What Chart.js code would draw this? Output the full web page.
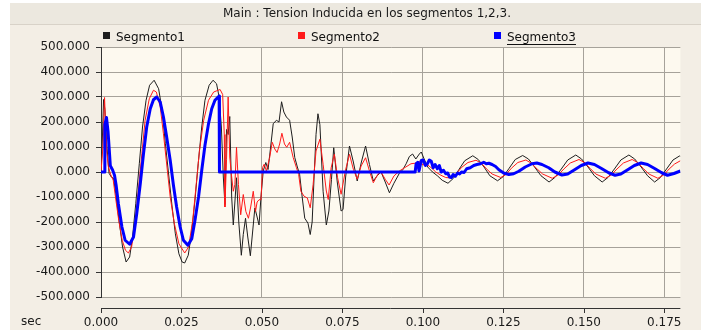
<!DOCTYPE html>
<html>
<head>
<meta charset="utf-8">
<title>Tension Inducida en los segmentos</title>
<script src="https://cdn.jsdelivr.net/npm/chart.js@4.4.0/dist/chart.umd.min.js"></script>
<style>
    html, body { margin: 0; padding: 0; background: #ffffff; }
    .wrap { width: 701px; height: 330px; position: relative; }
</style>
</head>
<body>
<div class="wrap"><canvas id="graph"></canvas></div>
<script>
const chartTitle = 'Main : Tension Inducida en los segmentos 1,2,3.';
const seriesNames = ['Segmento1', 'Segmento2', 'Segmento3'];
const seriesColors = ['#1e1e1e', '#ff1a1a', '#0000ff'];
const xUnit = 'sec';

// Segmento1 (black) - time in s, tension
const seg1Time = [0, 0.0004, 0.0008, 0.0012, 0.0018, 0.0025, 0.0032, 0.0039, 0.0046, 0.0056, 0.0067, 0.0078, 0.0089, 0.0098,
    0.0108, 0.0119, 0.0129, 0.0140, 0.0151, 0.0165, 0.0179, 0.0190, 0.0200, 0.0211, 0.0221, 0.0231, 0.0242, 0.0252, 0.0260,
    0.0271, 0.0281, 0.0292, 0.0302, 0.0313, 0.0323, 0.0336, 0.0348, 0.0359, 0.0367, 0.0374, 0.0380, 0.0385, 0.0390, 0.0395,
    0.0400, 0.0406, 0.0411, 0.0416, 0.0421, 0.0428, 0.0436, 0.0442, 0.0449, 0.0456, 0.0464, 0.0471, 0.0478, 0.0485, 0.0491,
    0.0497, 0.0504, 0.0512, 0.0519, 0.0527, 0.0535, 0.0545, 0.0553, 0.0561, 0.0568, 0.0576, 0.0586, 0.0594, 0.0602, 0.0610,
    0.0617, 0.0625, 0.0633, 0.0643, 0.0650, 0.0656, 0.0662, 0.0668, 0.0674, 0.0680, 0.0690, 0.0700, 0.0708, 0.0716, 0.0723,
    0.0734, 0.0746, 0.0752, 0.0760, 0.0772, 0.0784, 0.0796, 0.0809, 0.0822, 0.0834, 0.0846, 0.0858, 0.0870, 0.0883, 0.0896,
    0.0910, 0.0927, 0.0938, 0.0948, 0.0958, 0.0968, 0.0978, 0.0989, 0.0995, 0.1003, 0.1015, 0.1030, 0.1045, 0.1060, 0.1078,
    0.1095, 0.1112, 0.1130, 0.1155, 0.1172, 0.1190, 0.1208, 0.1232, 0.1250, 0.1268, 0.1287, 0.1310, 0.1328, 0.1347, 0.1367,
    0.1392, 0.1410, 0.1430, 0.1450, 0.1475, 0.1493, 0.1513, 0.1533, 0.1557, 0.1575, 0.1595, 0.1615, 0.1640, 0.1658, 0.1678,
    0.1698, 0.1720, 0.1738, 0.1757, 0.1777, 0.1797, 0.1800];
const seg1Volt = [0, 120, 290, 250, 110, -5, -20, -25, -87, -193, -300, -360, -340, -260,
    -127, 33, 180, 287, 347, 367, 333, 247, 113, -20, -140, -247, -327, -360, -364,
    -333, -247, -113, 33, 180, 287, 347, 367, 353, 300, 180, -20, -130, 170, 150,
    222, -100, -212, -120, -23, -200, -333, -250, -185, -260, -335, -240, -144, -180, -212,
    -100, 4, 38, 10, 100, 193, 207, 200, 281, 240, 220, 207, 140, 58, 20,
    -9, -100, -185, -205, -250, -200, -20, 150, 233, 190, -77, -212, -156, -30, 97,
    -40, -156, -150, -20, 104, 40, -36, 40, 104, 30, -36, -15, 0, -40, -83,
    -45, -5, 10, 33, 62, 72, 52, 72, 80, 55, 20, 0, -15, -33, -45,
    -25, 10, 45, 65, 50, 20, -15, -35, -18, 15, 50, 66, 52, 20, -15,
    -40, -22, 12, 48, 68, 52, 20, -15, -40, -22, 12, 48, 68, 52, 20,
    -15, -40, -22, 12, 48, 64, 63];

// Segmento2 (red)
const seg2Time = [0, 0.0006, 0.0011, 0.0014, 0.0018, 0.0023, 0.0030, 0.0038, 0.0045, 0.0055, 0.0066, 0.0076, 0.0085, 0.0095,
    0.0106, 0.0116, 0.0127, 0.0137, 0.0150, 0.0163, 0.0172, 0.0184, 0.0194, 0.0205, 0.0215, 0.0228, 0.0242, 0.0260, 0.0272,
    0.0285, 0.0296, 0.0306, 0.0319, 0.0334, 0.0350, 0.0360, 0.0370, 0.0378, 0.0383, 0.0385, 0.0390, 0.0395, 0.0400, 0.0405,
    0.0411, 0.0416, 0.0421, 0.0427, 0.0434, 0.0442, 0.0450, 0.0458, 0.0465, 0.0473, 0.0480, 0.0485, 0.0491, 0.0497, 0.0502,
    0.0507, 0.0514, 0.0524, 0.0532, 0.0540, 0.0547, 0.0555, 0.0562, 0.0570, 0.0577, 0.0586, 0.0597, 0.0607, 0.0614, 0.0621,
    0.0631, 0.0641, 0.0650, 0.0659, 0.0668, 0.0680, 0.0690, 0.0700, 0.0706, 0.0715, 0.0725, 0.0735, 0.0746, 0.0759, 0.0772,
    0.0784, 0.0796, 0.0808, 0.0822, 0.0834, 0.0846, 0.0860, 0.0870, 0.0883, 0.0895, 0.0910, 0.0927, 0.0947, 0.0963, 0.0975,
    0.0989, 0.1000, 0.1010, 0.1025, 0.1040, 0.1056, 0.1071, 0.1088, 0.1103, 0.1120, 0.1140, 0.1165, 0.1182, 0.1198, 0.1215,
    0.1242, 0.1258, 0.1275, 0.1295, 0.1320, 0.1337, 0.1355, 0.1372, 0.1402, 0.1420, 0.1438, 0.1458, 0.1485, 0.1502, 0.1520,
    0.1537, 0.1567, 0.1585, 0.1603, 0.1623, 0.1650, 0.1667, 0.1685, 0.1702, 0.1730, 0.1748, 0.1765, 0.1782, 0.1800];
const seg2Volt = [0, 100, 298, 200, 80, 20, -10, -33, -100, -193, -273, -313, -324, -300,
    -207, -73, 73, 207, 293, 327, 320, 260, 153, 20, -100, -207, -287, -324, -300,
    -193, -47, 87, 207, 287, 320, 325, 330, 310, 150, -140, 50, 300, 60, -9,
    -77, -50, 99, -50, -171, -90, -158, -185, -140, -77, -158, -120, -111, -111, 18,
    31, 4, 58, 119, 92, 78, 112, 155, 112, 99, 119, 58, 18, -9, -77,
    -97, -104, -143, -50, 84, 131, 31, -76, -110, 17, 71, -23, -89, 4, 71,
    11, -29, 24, 57, 4, -43, -9, 0, -29, -52, -16, 4, 20, 33, 35,
    43, 28, 33, 18, 0, -13, -22, -24, -8, 18, 38, 47, 35, 12, -8,
    -22, -10, 15, 38, 48, 35, 12, -8, -25, -12, 12, 36, 50, 38, 14,
    -8, -25, -12, 12, 36, 50, 38, 14, -8, -25, -12, 12, 32, 45];

// Segmento3 (blue)
const seg3Time = [0, 0.0011, 0.0012, 0.0017, 0.0022, 0.0029, 0.0036, 0.0042, 0.0047, 0.0054, 0.0065, 0.0075, 0.0089, 0.0101,
    0.0111, 0.0122, 0.0132, 0.0142, 0.0153, 0.0163, 0.0173, 0.0184, 0.0194, 0.0204, 0.0215, 0.0225, 0.0235, 0.0246, 0.0256,
    0.0270, 0.0282, 0.0292, 0.0303, 0.0313, 0.0323, 0.0334, 0.0344, 0.0354, 0.0367, 0.0368, 0.0976, 0.0979, 0.0984, 0.0988,
    0.0995, 0.1001, 0.1008, 0.1014, 0.1020, 0.1026, 0.1032, 0.1038, 0.1045, 0.1051, 0.1057, 0.1064, 0.1071, 0.1077, 0.1083,
    0.1089, 0.1094, 0.1101, 0.1108, 0.1114, 0.1120, 0.1128, 0.1136, 0.1147, 0.1158, 0.1168, 0.1179, 0.1189, 0.1197, 0.1205,
    0.1215, 0.1226, 0.1236, 0.1251, 0.1267, 0.1282, 0.1298, 0.1318, 0.1339, 0.1354, 0.1370, 0.1391, 0.1410, 0.1432, 0.1450,
    0.1470, 0.1492, 0.1513, 0.1533, 0.1555, 0.1577, 0.1597, 0.1615, 0.1635, 0.1657, 0.1678, 0.1698, 0.1720, 0.1742, 0.1760,
    0.1780, 0.1800];
const seg3Volt = [0, 0, 190, 218, 160, 25, 8, -13, -53, -127, -220, -273, -289, -260,
    -167, -47, 73, 180, 253, 289, 300, 280, 220, 140, 47, -53, -140, -220, -273,
    -293, -267, -193, -100, 7, 107, 193, 253, 287, 304, 0, 0, 33, 39, 4,
    46, 48, 26, 33, 48, 43, 17, 30, 13, 26, 0, 7, -7, -4, -20,
    -22, -10, -17, -4, -8, 0, -2, 13, 17, 26, 30, 33, 39, 33, 35,
    30, 22, 9, -4, -10, -7, 3, 20, 33, 36, 30, 17, 0, -12, -8,
    8, 26, 36, 30, 14, -3, -13, -8, 8, 26, 36, 30, 14, -3, -13,
    -6, 4];

const yTicksStep = 100;
const xTicksStep = 0.025;

function toPoints(times, values) {
    return times.map((t, i) => ({ x: t, y: values[i] }));
}

const fontFamily = '"DejaVu Sans", Verdana, sans-serif';

// backgrounds, title, custom legend and detached x axis line
const frame = {
    id: 'frame',
    beforeDraw(chart) {
        const { ctx, chartArea: a, width, height } = chart;
        ctx.save();
        ctx.fillStyle = '#f3eee5';
        ctx.fillRect(0, 0, width, height);
        ctx.fillStyle = '#ffffff';
        ctx.fillRect(0, 0, 10, height);
        ctx.fillRect(0, 0, width, 3);
        ctx.fillStyle = '#ece8df';
        ctx.fillRect(10, 3, width - 10, 21);
        ctx.fillStyle = '#d8d2c8';
        ctx.fillRect(10, 24, width - 10, 1);
        ctx.fillStyle = '#fdf9ef';
        ctx.fillRect(a.left, a.top, a.right - a.left, a.bottom - a.top);
        ctx.restore();
    },
    afterDraw(chart) {
        const { ctx, chartArea: a } = chart;
        const xs = chart.scales.x;
        ctx.save();
        // title
        ctx.fillStyle = '#1a1a1a';
        ctx.font = '12px ' + fontFamily;
        ctx.textAlign = 'center';
        ctx.textBaseline = 'middle';
        ctx.fillText(chartTitle, 367, 14);

        // legend
        const legendX = [103, 298, 494];
        ctx.font = '12px ' + fontFamily;
        ctx.textAlign = 'left';
        chart.data.datasets.forEach((ds, i) => {
            const x0 = legendX[i];
            ctx.fillStyle = ds.borderColor;
            ctx.fillRect(x0, 32, 7, 7);
            ctx.fillStyle = '#111111';
            ctx.fillText(ds.label, x0 + 13, 38);
            if (i === 2) {
                const w = ctx.measureText(ds.label).width;
                ctx.fillRect(x0 + 13, 44, w, 1);
            }
        });

        // x axis line below the plot
        const axisY = 308;
        ctx.strokeStyle = '#333333';
        ctx.lineWidth = 1;
        ctx.beginPath();
        ctx.moveTo(a.left, axisY + 0.5);
        ctx.lineTo(a.right, axisY + 0.5);
        xs.ticks.forEach(tk => {
            const px = Math.round(xs.getPixelForValue(tk.value)) + 0.5;
            ctx.moveTo(px, axisY);
            ctx.lineTo(px, axisY + 5);
        });
        ctx.stroke();

        // unit
        ctx.fillStyle = '#1a1a1a';
        ctx.font = '12px ' + fontFamily;
        ctx.textAlign = 'left';
        ctx.textBaseline = 'middle';
        ctx.fillText(xUnit, 21, 322);
        ctx.restore();
    }
};

const ctx = document.getElementById('graph').getContext('2d');

const chart = new Chart(ctx, {
    type: 'line',
    data: {
        datasets: [
            {
                label: seriesNames[0],
                data: toPoints(seg1Time, seg1Volt),
                borderColor: seriesColors[0],
                borderWidth: 1,
                order: 3
            },
            {
                label: seriesNames[1],
                data: toPoints(seg2Time, seg2Volt),
                borderColor: seriesColors[1],
                borderWidth: 1,
                order: 2
            },
            {
                label: seriesNames[2],
                data: toPoints(seg3Time, seg3Volt),
                borderColor: seriesColors[2],
                borderWidth: 3,
                order: 1
            }
        ]
    },
    options: {
        responsive: true,
        maintainAspectRatio: false,
        animation: false,
        elements: {
            point: { radius: 0 },
            line: { tension: 0, fill: false, borderJoinStyle: 'round' }
        },
        layout: {
            padding: { left: 0, top: 47, right: 19, bottom: 0 }
        },
        plugins: {
            legend: { display: false },
            title: { display: false },
            tooltip: { enabled: false }
        },
        scales: {
            x: {
                type: 'linear',
                min: 0,
                max: 0.18,
                ticks: {
                    stepSize: xTicksStep,
                    includeBounds: false,
                    autoSkip: false,
                    maxRotation: 0,
                    padding: 19,
                    color: '#1a1a1a',
                    font: { family: fontFamily, size: 12 },
                    callback: v => v.toFixed(3)
                },
                grid: { color: '#a6a29a', lineWidth: 1, drawTicks: false },
                border: { display: false },
                afterFit: s => { s.height = 33; }
            },
            y: {
                min: -500,
                max: 500,
                ticks: {
                    stepSize: yTicksStep,
                    padding: 6,
                    color: '#1a1a1a',
                    font: { family: fontFamily, size: 12 },
                    callback: v => v.toFixed(3)
                },
                grid: { color: '#a6a29a', lineWidth: 1, tickLength: 5, tickColor: '#333333' },
                border: { color: '#333333', width: 1 },
                afterFit: s => { s.width = 101; }
            }
        }
    },
    plugins: [frame]
});
</script>
</body>
</html>
